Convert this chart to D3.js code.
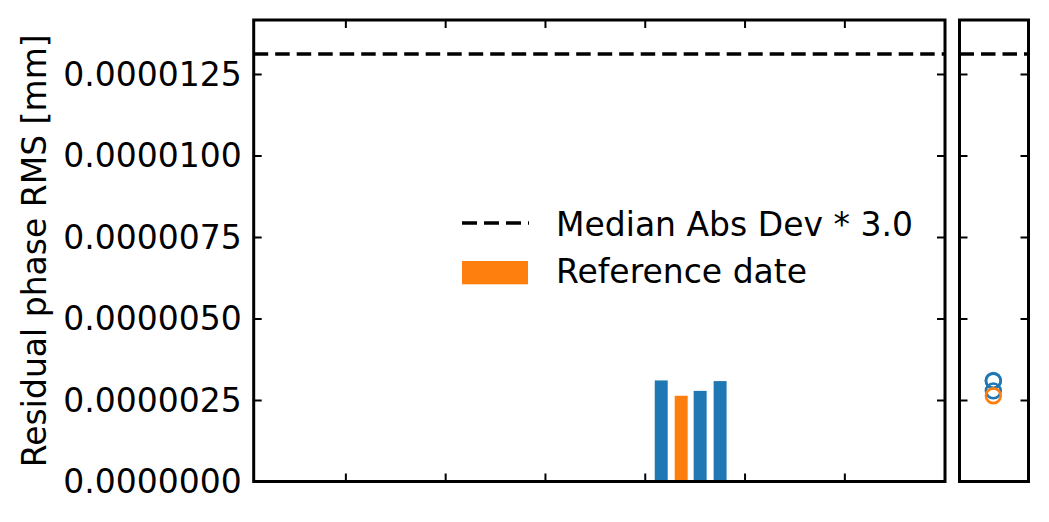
<!DOCTYPE html>
<html><head><meta charset="utf-8">
<script src="https://cdn.jsdelivr.net/npm/d3@7"></script>
<style>body{margin:0;background:#fff}svg{display:block}text{font-family:"DejaVu Sans";fill:#000}</style>
</head><body><svg id="c" width="1049" height="522"></svg>
<script>
// data
const barX = [3.165, 3.365, 3.555, 3.755];
const barValues = [3.10e-6, 2.63e-6, 2.78e-6, 3.08e-6];
const barIsReference = [false, true, false, false];
const madThreshold = 13.11e-6;
const yTickValues = [0, 2.5e-6, 5e-6, 7.5e-6, 10e-6, 12.5e-6];
const yTickLabels = ["0.0000000","0.0000025","0.0000050","0.0000075","0.0000100","0.0000125"];
const xTickValues = [0, 1, 2, 3, 4, 5];
const legendLabels = ["Median Abs Dev * 3.0", "Reference date"];

const BLUE = "#1f77b4", ORANGE = "#ff7f0e";
const svg = d3.select("#c");
const main = {l: 253.7, r: 945, t: 20, b: 481.5};
const side = {l: 959.5, r: 1028.5, t: 20, b: 481.5};

const y = d3.scaleLinear().domain([0, 14.156e-6]).range([main.b, main.t]);
const x = d3.scaleLinear().domain([-0.9185, 6.0085]).range([main.l, main.r]);
const xs = d3.scaleLinear().domain([0, 1]).range([side.l, side.r]);
const barW = 0.13;

// bars
svg.append("g").selectAll("rect").data(barValues).join("rect")
  .attr("x", (d,i) => x(barX[i] - barW/2))
  .attr("width", (d,i) => x(barX[i] + barW/2) - x(barX[i] - barW/2))
  .attr("y", d => y(d))
  .attr("height", d => y(0) - y(d))
  .attr("fill", (d,i) => barIsReference[i] ? ORANGE : BLUE);

// dashed threshold lines
const dash = "14.5,7";
svg.append("line").attr("x1", main.l).attr("x2", main.r)
  .attr("y1", y(madThreshold)).attr("y2", y(madThreshold))
  .attr("stroke", "#000").attr("stroke-width", 3.5).attr("stroke-dasharray", dash);
svg.append("line").attr("x1", side.l).attr("x2", side.r)
  .attr("y1", y(madThreshold)).attr("y2", y(madThreshold))
  .attr("stroke", "#000").attr("stroke-width", 3.5).attr("stroke-dasharray", dash);

// side circles (draw blue then orange on top)
const order = d3.range(barValues.length).sort((a,b) => (barIsReference[a]?1:0) - (barIsReference[b]?1:0));
svg.append("g").selectAll("circle").data(order).join("circle")
  .attr("cx", xs(0.49)).attr("cy", i => y(barValues[i])).attr("r", 7.4)
  .attr("fill", "none").attr("stroke-width", 2.6)
  .attr("stroke", i => barIsReference[i] ? ORANGE : BLUE);

// axes
const tl = 8;
function styleAxis(g){
  g.selectAll(".domain").remove();
  g.selectAll(".tick line").attr("stroke", "#000").attr("stroke-width", 2);
  g.selectAll(".tick text").remove();
}
svg.append("g").attr("transform", `translate(${main.l},0)`)
  .call(d3.axisRight(y).tickValues(yTickValues).tickSize(tl)).call(styleAxis);
svg.append("g").attr("transform", `translate(${main.r},0)`)
  .call(d3.axisLeft(y).tickValues(yTickValues).tickSize(tl)).call(styleAxis);
svg.append("g").attr("transform", `translate(0,${main.b})`)
  .call(d3.axisTop(x).tickValues(xTickValues).tickSize(tl)).call(styleAxis);
svg.append("g").attr("transform", `translate(0,${main.t})`)
  .call(d3.axisBottom(x).tickValues(xTickValues).tickSize(tl)).call(styleAxis);
svg.append("g").attr("transform", `translate(${side.l},0)`)
  .call(d3.axisRight(y).tickValues(yTickValues).tickSize(tl)).call(styleAxis);
svg.append("g").attr("transform", `translate(${side.r},0)`)
  .call(d3.axisLeft(y).tickValues(yTickValues).tickSize(tl)).call(styleAxis);

// y tick labels
svg.append("g").selectAll("text").data(yTickValues).join("text")
  .attr("x", main.l - 12).attr("y", d => y(d)).attr("dy", "0.36em")
  .attr("text-anchor", "end").attr("font-size", 33)
  .text((d,i) => yTickLabels[i]);

// frames
[main, side].forEach(p => svg.append("rect")
  .attr("x", p.l).attr("y", p.t).attr("width", p.r - p.l).attr("height", p.b - p.t)
  .attr("fill", "none").attr("stroke", "#000").attr("stroke-width", 3));

// y label
svg.append("text").attr("transform", `translate(46,${(main.t+main.b)/2}) rotate(-90)`)
  .attr("text-anchor", "middle").attr("font-size", 33).text("Residual phase RMS [mm]");

// legend
const lg = svg.append("g");
lg.append("line").attr("x1", 462).attr("x2", 529).attr("y1", 223).attr("y2", 223)
  .attr("stroke", "#000").attr("stroke-width", 3.5).attr("stroke-dasharray", "15,7");
lg.append("rect").attr("x", 462).attr("y", 261).attr("width", 66).attr("height", 23.3).attr("fill", ORANGE);
lg.append("text").attr("x", 556).attr("y", 236).attr("font-size", 33).text(legendLabels[0]);
lg.append("text").attr("x", 556).attr("y", 283).attr("font-size", 33).text(legendLabels[1]);
</script></body></html>
